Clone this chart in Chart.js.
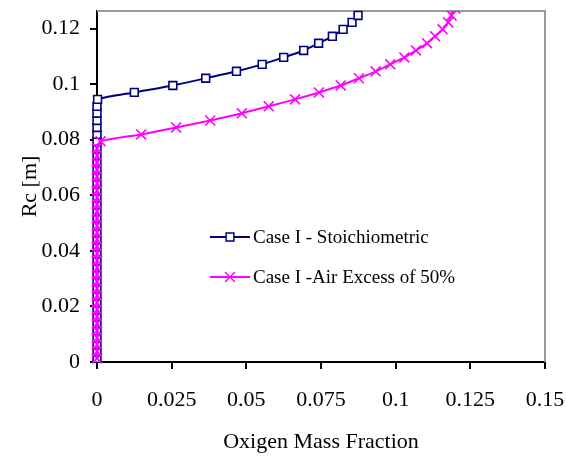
<!DOCTYPE html>
<html><head><meta charset="utf-8">
<script src="https://cdn.jsdelivr.net/npm/chart.js@4/dist/chart.umd.min.js"></script>
<style>html,body{margin:0;padding:0;background:#fff;}#wrap{position:relative;width:566px;height:457px;}</style>
</head><body><div id="wrap"><canvas id="c" width="566" height="457"></canvas></div>
<script>
const xTickValues = [0, 0.025, 0.05, 0.075, 0.1, 0.125, 0.15];
const xTickLabels = ["0", "0.025", "0.05", "0.075", "0.1", "0.125", "0.15"];
const yTickValues = [0, 0.02, 0.04, 0.06, 0.08, 0.1, 0.12];
const yTickLabels = ["0", "0.02", "0.04", "0.06", "0.08", "0.1", "0.12"];
const seriesNames = ["Case I - Stoichiometric", "Case I -Air Excess of 50%"];
const xTitle = "Oxigen Mass Fraction";
const yTitle = "Rc [m]";

// Case I - Stoichiometric: radius (y) and oxygen mass fraction (x)
const stoichRc = [0.0013, 0.0038, 0.0063, 0.0088, 0.0113, 0.0139, 0.0164, 0.0189, 0.0214, 0.0239,
  0.0265, 0.0290, 0.0315, 0.0340, 0.0365, 0.0391, 0.0416, 0.0441, 0.0466, 0.0491,
  0.0517, 0.0542, 0.0567, 0.0592, 0.0617, 0.0643, 0.0668, 0.0693, 0.0718, 0.0743,
  0.0769, 0.0794, 0.0819, 0.0844, 0.0869, 0.0895, 0.0920, 0.0945, 0.0970, 0.0995,
  0.1021, 0.1046, 0.1071, 0.1096, 0.1121, 0.1147, 0.1172, 0.1197, 0.1222, 0.1247];
const stoichO2 = [0, 0, 0, 0, 0, 0, 0, 0, 0, 0,
  0, 0, 0, 0, 0, 0, 0, 0, 0, 0,
  0, 0, 0, 0, 0, 0, 0, 0, 0, 0,
  0, 0, 0, 0, 0, 0, 0, 0.0002, 0.0125, 0.0254,
  0.0364, 0.0467, 0.0553, 0.0625, 0.0692, 0.0742, 0.0788, 0.0824, 0.0854, 0.0874];

// Case I - Air Excess of 50%
const excessRc = [0.0013, 0.0038, 0.0063, 0.0088, 0.0113, 0.0139, 0.0164, 0.0189, 0.0214, 0.0239,
  0.0265, 0.0290, 0.0315, 0.0340, 0.0365, 0.0391, 0.0416, 0.0441, 0.0466, 0.0491,
  0.0517, 0.0542, 0.0567, 0.0592, 0.0617, 0.0643, 0.0668, 0.0693, 0.0718, 0.0743,
  0.0769, 0.0794, 0.0819, 0.0844, 0.0869, 0.0895, 0.0920, 0.0945, 0.0970, 0.0995,
  0.1021, 0.1046, 0.1071, 0.1096, 0.1121, 0.1147, 0.1172, 0.1197, 0.1222, 0.1247, 0.1272];
const excessO2 = [0, 0, 0, 0, 0, 0, 0, 0, 0, 0,
  0, 0, 0, 0, 0, 0, 0, 0, 0, 0,
  0, 0, 0, 0, 0, 0, 0, 0, 0, 0,
  0, 0.0012, 0.0148, 0.0265, 0.0379, 0.0485, 0.0575, 0.0663, 0.0743, 0.0816,
  0.0877, 0.0933, 0.0982, 0.1029, 0.1068, 0.1105, 0.1132, 0.1157, 0.1176, 0.1187, 0.1200];

const NAVY = '#000080', MAG = '#FF00FF';
const FONT = "'Liberation Serif', 'Times New Roman', serif";

const toPts = (xs, ys) => xs.map((x, i) => ({x: x, y: ys[i]}));

const frame = {
  id: 'frame',
  beforeDatasetsDraw(chart) {
    const {ctx, chartArea: a} = chart;
    ctx.save();
    ctx.strokeStyle = '#9a9a9a';
    ctx.lineWidth = 2;
    ctx.beginPath();
    ctx.moveTo(a.left, a.top); ctx.lineTo(a.right, a.top); ctx.lineTo(a.right, a.bottom);
    ctx.stroke();
    ctx.restore();
  },
  afterDraw(chart) {
    const {ctx} = chart;
    const items = [
      {y: 237, color: NAVY, style: 'rect', r: 5.5, fill: '#fff', text: seriesNames[0]},
      {y: 277, color: MAG, style: 'crossRot', r: 7, fill: MAG, text: seriesNames[1]}
    ];
    ctx.save();
    items.forEach(it => {
      ctx.strokeStyle = it.color; ctx.lineWidth = 2;
      ctx.beginPath(); ctx.moveTo(210, it.y); ctx.lineTo(250, it.y); ctx.stroke();
      ctx.lineWidth = 1.5; ctx.fillStyle = it.fill;
      Chart.helpers.drawPoint(ctx, {pointStyle: it.style, radius: it.r, borderWidth: 1.5}, 230, it.y);
      ctx.fillStyle = '#000';
      ctx.font = "19px " + FONT;
      ctx.textBaseline = 'middle'; ctx.textAlign = 'left';
      ctx.fillText(it.text, 253, it.y + 1);
    });
    ctx.restore();
  }
};

const markClip = {left: 12, top: 4, right: 0, bottom: 12};

new Chart(document.getElementById('c'), {
  type: 'scatter',
  data: {
    datasets: [
      {label: seriesNames[0], data: toPts(stoichO2, stoichRc), showLine: true, order: 1, clip: markClip,
       borderColor: NAVY, borderWidth: 2, tension: 0.2,
       pointStyle: 'rect', pointRadius: 5.5, pointBorderWidth: 1.6,
       pointBorderColor: NAVY, pointBackgroundColor: '#fff'},
      {label: seriesNames[1], data: toPts(excessO2, excessRc), showLine: true, order: 0, clip: {left: 12, top: 0, right: 0, bottom: 12},
       borderColor: MAG, borderWidth: 2, tension: 0.2,
       pointStyle: 'crossRot', pointRadius: 7, pointBorderWidth: 1.6,
       pointBorderColor: MAG, pointBackgroundColor: MAG}
    ]
  },
  options: {
    responsive: false, animation: false, devicePixelRatio: 1,
    layout: {padding: {top: 11, right: 21, left: 0, bottom: 0}},
    plugins: {legend: {display: false}, tooltip: {enabled: false}},
    scales: {
      x: {
        type: 'linear', min: 0, max: 0.15,
        afterFit(s) { s.height = 95; s.paddingLeft = 0; s.paddingRight = 0; },
        afterBuildTicks(s) { s.ticks = xTickValues.map(v => ({value: v})); },
        ticks: {color: '#000', font: {family: FONT, size: 22}, padding: 18, maxRotation: 0,
          callback: (v) => xTickLabels[xTickValues.findIndex(t => Math.abs(t - v) < 1e-9)]},
        grid: {drawOnChartArea: false, drawTicks: true, tickLength: 7, color: '#000', lineWidth: 2},
        border: {display: true, color: '#000', width: 2},
        title: {display: true, text: xTitle, color: '#000', font: {family: FONT, size: 22}, padding: {top: 0, bottom: 2}}
      },
      y: {
        type: 'linear', min: 0, max: 0.1263,
        afterFit(s) { s.width = 97; s.paddingTop = 0; s.paddingBottom = 0; },
        afterBuildTicks(s) { s.ticks = yTickValues.map(v => ({value: v})); },
        ticks: {color: '#000', font: {family: FONT, size: 22}, padding: 10,
          callback: (v) => yTickLabels[yTickValues.findIndex(t => Math.abs(t - v) < 1e-9)]},
        grid: {drawOnChartArea: false, drawTicks: true, tickLength: 7, color: '#000', lineWidth: 2},
        border: {display: true, color: '#000', width: 2},
        title: {display: true, text: yTitle, color: '#000', font: {family: FONT, size: 22}, padding: {top: 17, bottom: 0}}
      }
    }
  },
  plugins: [frame]
});
</script></body></html>
